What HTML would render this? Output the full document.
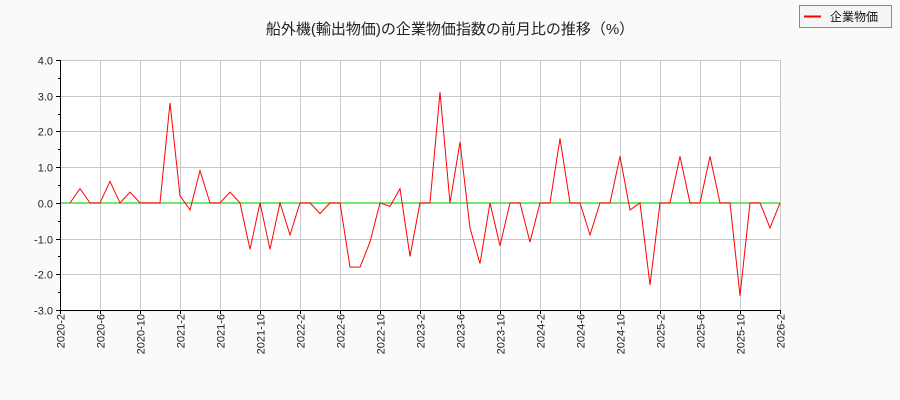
<!DOCTYPE html>
<html><head><meta charset="utf-8"><style>
body{margin:0;background:#fafafa;}
svg{display:block;font-family:"Liberation Sans","Noto Sans CJK JP",sans-serif;}
</style></head><body>
<svg width="900" height="400" xmlns="http://www.w3.org/2000/svg">
<rect width="900" height="400" fill="#fafafa"/>
<text x="450" y="34" text-anchor="middle" font-size="15" fill="#222">船外機(輸出物価)の企業物価指数の前月比の推移（%）</text>
<rect x="799.5" y="5.5" width="92" height="22" fill="#f5f5f5" stroke="#888"/>
<line x1="804" y1="16.5" x2="821" y2="16.5" stroke="red" stroke-width="2"/>
<text x="830" y="21" font-size="12" fill="#111">企業物価</text>
<rect x="60" y="60" width="720" height="250" fill="#fff"/>
<g stroke="#c8c8c8" stroke-width="1" id="grid"></g>
<line x1="60" y1="202.9" x2="780" y2="202.9" stroke="#22dd22" stroke-width="1"/>
<polyline id="ln" fill="none" stroke="red" stroke-width="1"/>
<g id="ax" font-size="11" fill="#222"></g>
<line x1="60.5" y1="60" x2="60.5" y2="310" stroke="#000"/>
<line x1="60" y1="310.5" x2="780" y2="310.5" stroke="#000"/>
</svg>
<script>
var ns="http://www.w3.org/2000/svg";
function el(t,a,p){var e=document.createElementNS(ns,t);for(var k in a)e.setAttribute(k,a[k]);p.appendChild(e);return e;}
var g=document.getElementById('grid'),ax=document.getElementById('ax');
function Y(v){return 60+(4-v)*250/7;}
for(var v=-3;v<=4;v++){var y=Math.round(Y(v))+0.5;el('line',{x1:60,x2:780,y1:y,y2:y},g);
var t=el('text',{x:53,y:y+4,'text-anchor':'end'},ax);t.textContent=v.toFixed(1);
el('line',{x1:56,x2:60,y1:y,y2:y,stroke:'#000'},ax);
if(v<4){var y2=Math.round(Y(v+0.5))+0.5;el('line',{x1:58,x2:60,y1:y2,y2:y2,stroke:'#000'},ax);}}
var labs=['2020-2','2020-6','2020-10','2021-2','2021-6','2021-10','2022-2','2022-6','2022-10','2023-2','2023-6','2023-10','2024-2','2024-6','2024-10','2025-2','2025-6','2025-10','2026-2'];
labs.forEach(function(s,i){var x=60+i*40+0.5;el('line',{x1:x,x2:x,y1:60,y2:310},g);
el('line',{x1:x,x2:x,y1:310,y2:314,stroke:'#000'},ax);
var t=el('text',{x:0,y:0,'text-anchor':'end',transform:'translate('+(x+4)+',314) rotate(-90)'},ax);t.textContent=s;});
var d=[0,0.4,0,0,0.6,0,0.3,0,0,0,2.8,0.2,-0.2,0.9,0,0,0.3,0,-1.3,0,-1.3,0,-0.9,0,0,-0.3,0,0,-1.8,-1.8,-1.1,0,-0.1,0.4,-1.5,0,0,3.1,0,1.7,-0.7,-1.7,0,-1.2,0,0,-1.1,0,0,1.8,0,0,-0.9,0,0,1.3,-0.2,0,-2.3,0,0,1.3,0,0,1.3,0,0,-2.6,0,0,-0.7,0];
document.getElementById('ln').setAttribute('points',d.map(function(v,i){return (70+i*10)+','+Y(v).toFixed(1);}).join(' '));
</script>
</body></html>
